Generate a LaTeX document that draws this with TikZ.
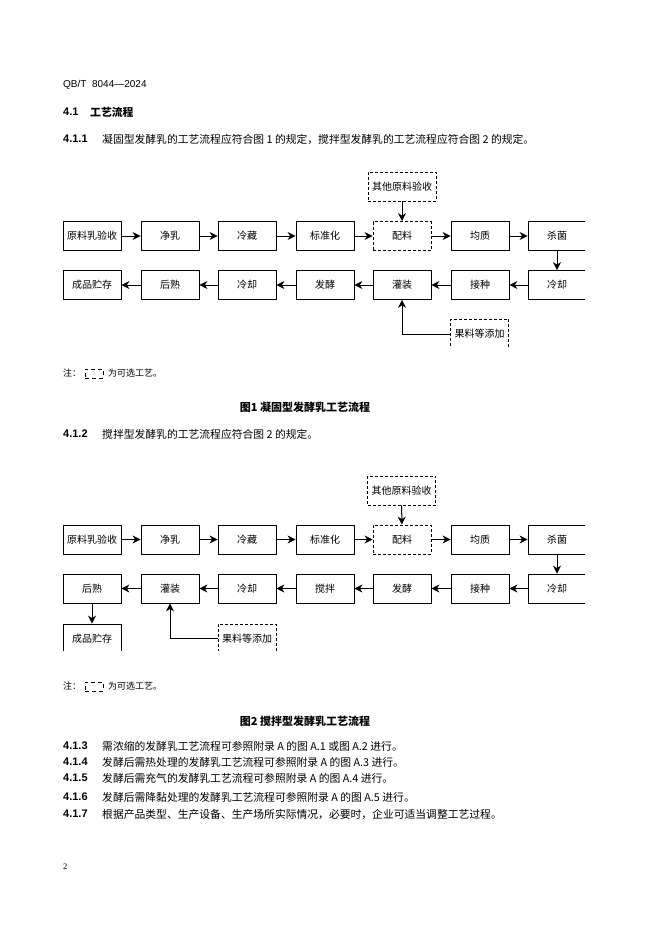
\documentclass[tikz,border=0pt]{standalone}
\usepackage{fontspec}
\setmainfont{Liberation Serif}
\newfontfamily\cjk{Noto Sans CJK SC}
\newfontfamily\arl{Liberation Sans}
\usetikzlibrary{arrows.meta}
\begin{document}
\begin{tikzpicture}[x=1pt,y=-1pt,
  box/.style={draw, line width=0.8pt, minimum width=58pt, minimum height=29pt, inner sep=0pt, font=\cjk\fontsize{10}{12}\selectfont},
  widebox/.style={box, minimum width=68pt},
  optdash/.style={dash pattern=on 3pt off 2pt},
  arr/.style={-{Stealth[length=8pt,width=8pt,inset=2.5pt]}, line width=1pt},
  txt/.style={anchor=west, inner sep=0pt, font=\cjk\fontsize{10.8}{12}\selectfont},
  small/.style={anchor=west, inner sep=0pt, font=\cjk\fontsize{9}{11}\selectfont},
  num/.style={anchor=west, inner sep=0pt, font=\arl\bfseries\fontsize{11}{12}\selectfont},
  figcap/.style={inner sep=0pt, font=\cjk\bfseries\fontsize{11}{12}\selectfont}]
\useasboundingbox[fill=white] (0,0) rectangle (662,936);

% header
\node[anchor=west, inner sep=0pt, font=\arl\fontsize{10}{12}\selectfont] (hdr) at (63,85) {QB/T\ \ 8044—2024};
\node[num] (h41) at (63,112) {4.1};
\node[txt, font=\cjk\bfseries\fontsize{10.8}{12}\selectfont] (h41t) at (90,112) {工艺流程};
\node[num] (n411) at (63,139) {4.1.1};
\node[txt] (t411) at (102,139) {凝固型发酵乳的工艺流程应符合图 1 的规定，搅拌型发酵乳的工艺流程应符合图 2 的规定。};

% figure 1
\begin{scope}
\clip (40,160) rectangle (585,347);
\node[box] (a1) at (92,236) {原料乳验收};
\node[box] (a2) at (170,236) {净乳};
\node[box] (a3) at (247,236) {冷藏};
\node[box] (a4) at (325,236) {标准化};
\node[box, optdash] (a5) at (402,236) {配料};
\node[box] (a6) at (480,236) {均质};
\node[box] (a7) at (557,236) {杀菌};
\node[widebox, optdash] (o1) at (402,186.5) {其他原料验收};
\node[box] (b1) at (92,285) {成品贮存};
\node[box] (b2) at (170,285) {后熟};
\node[box] (b3) at (247,285) {冷却};
\node[box] (b4) at (325,285) {发酵};
\node[box] (b5) at (402,285) {灌装};
\node[box] (b6) at (480,285) {接种};
\node[box] (b7) at (557,285) {冷却};
\node[box, optdash, minimum height=30pt] (f1) at (479.5,334) {果料等添加};
\draw[arr] (a1) -- (a2);
\draw[arr] (a2) -- (a3);
\draw[arr] (a3) -- (a4);
\draw[arr] (a4) -- (a5);
\draw[arr] (a5) -- (a6);
\draw[arr] (a6) -- (a7);
\draw[arr] (o1) -- (a5);
\draw[arr] (a7) -- (b7);
\draw[arr] (b7) -- (b6);
\draw[arr] (b6) -- (b5);
\draw[arr] (b5) -- (b4);
\draw[arr] (b4) -- (b3);
\draw[arr] (b3) -- (b2);
\draw[arr] (b2) -- (b1);
\draw[arr] (f1.west) -| (b5.south);
\end{scope}

\node[small] (note1) at (63,373) {注：};
\node[draw, line width=0.8pt, dash pattern=on 4pt off 3pt, minimum width=18pt, minimum height=9pt, inner sep=0pt] (ic1) at (94,373.5) {};
\node[small] (note1t) at (108,373) {为可选工艺。};
\node[figcap] (cap1) at (305,407) {图1\ 凝固型发酵乳工艺流程};

\node[num] (n412) at (63,434) {4.1.2};
\node[txt] (t412) at (102,434) {搅拌型发酵乳的工艺流程应符合图 2 的规定。};

% figure 2
\begin{scope}
\clip (40,460) rectangle (585,650);
\node[box] (c1) at (92,539.5) {原料乳验收};
\node[box] (c2) at (170,539.5) {净乳};
\node[box] (c3) at (247,539.5) {冷藏};
\node[box] (c4) at (325,539.5) {标准化};
\node[box, optdash] (c5) at (402,539.5) {配料};
\node[box] (c6) at (480,539.5) {均质};
\node[box] (c7) at (557,539.5) {杀菌};
\node[widebox, optdash] (o2) at (401.5,490.5) {其他原料验收};
\node[box] (d1) at (92,588.5) {后熟};
\node[box] (d2) at (170,588.5) {灌装};
\node[box] (d3) at (247,588.5) {冷却};
\node[box] (d4) at (325,588.5) {搅拌};
\node[box] (d5) at (402,588.5) {发酵};
\node[box] (d6) at (480,588.5) {接种};
\node[box] (d7) at (557,588.5) {冷却};
\node[box] (e1) at (92,638.5) {成品贮存};
\node[box, optdash] (f2) at (247,638.5) {果料等添加};
\draw[arr] (c1) -- (c2);
\draw[arr] (c2) -- (c3);
\draw[arr] (c3) -- (c4);
\draw[arr] (c4) -- (c5);
\draw[arr] (c5) -- (c6);
\draw[arr] (c6) -- (c7);
\draw[arr] (o2) -- (c5);
\draw[arr] (c7) -- (d7);
\draw[arr] (d7) -- (d6);
\draw[arr] (d6) -- (d5);
\draw[arr] (d5) -- (d4);
\draw[arr] (d4) -- (d3);
\draw[arr] (d3) -- (d2);
\draw[arr] (d2) -- (d1);
\draw[arr] (d1) -- (e1);
\draw[arr] (f2.west) -| (d2.south);
\end{scope}

\node[small] (note2) at (63,686) {注：};
\node[draw, line width=0.8pt, dash pattern=on 4pt off 3pt, minimum width=18pt, minimum height=9pt, inner sep=0pt] (ic2) at (94,686.5) {};
\node[small] (note2t) at (108,686) {为可选工艺。};
\node[figcap] (cap2) at (305,721) {图2\ 搅拌型发酵乳工艺流程};

\node[num] (n413) at (63,746) {4.1.3};
\node[txt] (t413) at (102,746) {需浓缩的发酵乳工艺流程可参照附录 A 的图 A.1 或图 A.2 进行。};
\node[num] (n414) at (63,762) {4.1.4};
\node[txt] (t414) at (102,762) {发酵后需热处理的发酵乳工艺流程可参照附录 A 的图 A.3 进行。};
\node[num] (n415) at (63,778) {4.1.5};
\node[txt] (t415) at (102,778) {发酵后需充气的发酵乳工艺流程可参照附录 A 的图 A.4 进行。};
\node[num] (n416) at (63,797) {4.1.6};
\node[txt] (t416) at (102,797) {发酵后需降黏处理的发酵乳工艺流程可参照附录 A 的图 A.5 进行。};
\node[num] (n417) at (63,814) {4.1.7};
\node[txt] (t417) at (102,814) {根据产品类型、生产设备、生产场所实际情况，必要时，企业可适当调整工艺过程。};

\node[anchor=west, inner sep=0pt, font=\fontsize{8.5}{10}\selectfont] (pg) at (63,867) {2};
\end{tikzpicture}
\end{document}
